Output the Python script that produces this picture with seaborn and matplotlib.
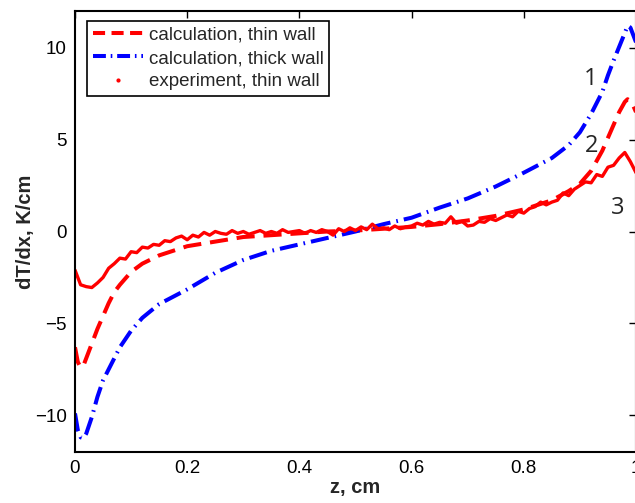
import numpy as np
import pandas as pd
import matplotlib
matplotlib.use("Agg")
import matplotlib.pyplot as plt
from matplotlib.lines import Line2D
import seaborn as sns

# coordinates along the wall, cm (calculated curves)
z_calc = [0, 0.005, 0.01, 0.015, 0.02, 0.03, 0.04, 0.05, 0.06, 0.07, 0.08,
          0.1, 0.12, 0.15, 0.2, 0.25, 0.3, 0.35, 0.4, 0.45, 0.5, 0.55, 0.6,
          0.65, 0.7, 0.75, 0.8, 0.85, 0.88, 0.9, 0.92, 0.94, 0.95, 0.96,
          0.97, 0.98, 0.985, 0.99, 0.995, 1.0]

# curve 2: calculation, thin wall
thin_calc = [-6.3, -7.1, -7.4, -7.3, -6.9, -6.1, -5.3, -4.6, -3.9, -3.3, -2.9,
             -2.2, -1.75, -1.3, -0.8, -0.55, -0.3, -0.2, -0.1, 0.0, 0.05, 0.15, 0.25,
             0.4, 0.6, 0.85, 1.2, 1.7, 2.2, 2.6, 3.3, 4.4, 5.1, 5.8,
             6.5, 7.05, 7.2, 7.1, 6.85, 6.5]

# curve 1: calculation, thick wall
thick_calc = [-9.9, -10.8, -11.2, -11.25, -11.0, -10.1, -9.0, -8.1, -7.5, -6.9, -6.3,
              -5.4, -4.7, -3.95, -3.15, -2.25, -1.55, -1.05, -0.7, -0.35, 0.0, 0.4, 0.75,
              1.3, 1.8, 2.45, 3.2, 4.0, 4.7, 5.4, 6.4, 7.6, 8.5, 9.3,
              10.05, 10.8, 11.2, 11.1, 10.7, 10.3]

# curve 3: experiment, thin wall (step 0.01 cm)
z_exp = [i / 100 for i in range(101)]
exp_thin = [-2.1, -2.9, -3.0, -3.05, -2.8, -2.5, -2.0, -1.75, -1.45, -1.5,
            -1.1, -1.15, -0.85, -0.9, -0.7, -0.75, -0.5, -0.55, -0.35, -0.25,
            -0.45, -0.2, -0.3, -0.05, -0.2, 0.0, -0.1, -0.15, 0.05, -0.1,
            0.0, -0.15, -0.05, 0.05, -0.1, 0.0, -0.1, 0.1, -0.05, 0.0,
            0.05, -0.1, 0.05, -0.05, 0.1, 0.0, -0.2, 0.15, 0.0, 0.2,
            0.05, 0.25, 0.1, 0.4, 0.15, 0.2, 0.1, 0.3, 0.15, 0.25,
            0.3, 0.45, 0.35, 0.55, 0.4, 0.5, 0.45, 0.8, 0.45, 0.55,
            0.3, 0.35, 0.55, 0.5, 0.7, 0.6, 0.75, 0.9, 0.8, 1.1,
            1.0, 1.25, 1.35, 1.6, 1.45, 1.6, 1.7, 2.1, 1.95, 2.3,
            2.5, 2.7, 2.65, 3.1, 3.0, 3.5, 3.6, 4.0, 4.3, 3.8,
            3.2]

labels = ["calculation, thin wall", "calculation, thick wall", "experiment, thin wall"]
curve_names = ["1", "2", "3"]
name_pos = [(0.920, 8.3), (0.920, 4.65), (0.968, 1.3)]

df_calc = pd.DataFrame({"z": z_calc, "thin": thin_calc, "thick": thick_calc})
df_exp = pd.DataFrame({"z": z_exp, "exp": exp_thin})

sns.set_style("white")
plt.rcParams["font.family"] = ["Liberation Sans", "DejaVu Sans"]

thin_ls = (0, (4.5, 2.2))
thick_ls = (0, (4.5, 1.5, 0.4, 1.5))

fig = plt.figure(figsize=(6.35, 5.03), dpi=100)
ax = fig.add_axes([75 / 635, 51 / 503, 561 / 635, 441 / 503])

sns.lineplot(data=df_calc, x="z", y="thin", ax=ax, color="red", lw=2.9,
             linestyle=thin_ls)
sns.lineplot(data=df_calc, x="z", y="thick", ax=ax, color="blue", lw=2.9,
             linestyle=thick_ls)
sns.lineplot(data=df_exp, x="z", y="exp", ax=ax, color="red", lw=2.4)

ax.set_xlim(0, 1)
ax.set_ylim(-12, 12)
ax.set_xticks([0, 0.2, 0.4, 0.6, 0.8, 1])
ax.set_xticklabels(["0", "0.2", "0.4", "0.6", "0.8", "1"])
ax.set_yticks([-10, -5, 0, 5, 10])
ax.set_yticklabels(["\u221210", "\u22125", "0", "5", "10"])
ax.tick_params(direction="in", length=5, width=1, top=True, right=True,
               labelsize=13.5, colors="black", pad=6)
for s in ax.spines.values():
    s.set_color("black")
    s.set_linewidth(1.5)

ax.set_xlabel("z, cm", fontsize=14.5, fontweight="bold")
ax.set_ylabel("dT/dx, K/cm", fontsize=14.5, fontweight="bold")
ax.xaxis.set_label_coords(0.5, -0.06)
ax.yaxis.set_label_coords(-0.071, 0.5)

for name, (px, py) in zip(curve_names, name_pos):
    ax.text(px, py, name, fontsize=17, family="Open Sans", ha="center", va="center")

handles = [
    Line2D([], [], color="red", lw=2.9, linestyle=(0, (3.0, 1.6))),
    Line2D([], [], color="blue", lw=2.9, linestyle=(0, (3.2, 1.2, 0.4, 1.2))),
    Line2D([], [], color="red", marker=".", markersize=4, linestyle="none"),
]
leg = ax.legend(handles, labels, loc="upper left", bbox_to_anchor=(0.0214, 0.977),
                borderaxespad=0, fontsize=13.5, frameon=True, fancybox=False,
                framealpha=1, edgecolor="black", labelspacing=0.32, borderpad=0.3,
                handlelength=2.7, handletextpad=0.3)
leg.get_frame().set_linewidth(1.2)

fig.savefig("out.png", dpi=100)
